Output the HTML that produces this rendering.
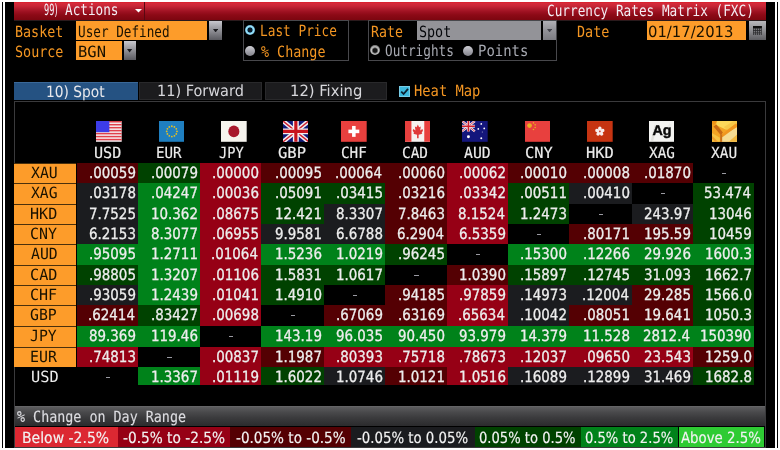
<!DOCTYPE html>
<html><head><meta charset="utf-8"><title>Currency Rates Matrix (FXC)</title>
<style>
*{margin:0;padding:0;box-sizing:border-box}
html,body{width:780px;height:450px;overflow:hidden;background:#fff}
body{position:relative;font-family:'DejaVu Sans Mono','Liberation Mono',monospace;font-size:15.5px;color:#ededed;text-rendering:geometricPrecision}
.a{position:absolute}
.t{position:absolute;white-space:pre;line-height:20px;height:20px;transform-origin:0 0}
.n{font-family:'DejaVu Sans Condensed','Liberation Sans',sans-serif;font-size:15.5px}
.s{-webkit-text-stroke:0.3px currentColor}
.s2{-webkit-text-stroke:0.15px currentColor}
</style></head>
<body>
<div class="a" style="left:2px;top:2px;width:1px;height:446px;background:#000"></div>
<div class="a" style="left:777px;top:2px;width:1px;height:446px;background:#000"></div>
<div class="a" style="left:5px;top:2px;width:770px;height:446px;background:#000"></div>
<div class="a" style="left:14px;top:2px;width:752px;height:17.5px;background:linear-gradient(#dc1e2a 0px,#d42a3a 1.5px,#c82636 4px,#b01c2c 7px,#9c1020 10px,#8c0a16 13px,#7e0610 17.5px)"></div>
<div class="a" style="left:14px;top:19.5px;width:752px;height:1px;background:#2a1a1c"></div>
<div class="a" style="left:144.2px;top:2px;width:1px;height:17.5px;background:#5a0812"></div>
<div id="t99" class="t n" style="left:44.41px;top:0.40px;color:#f4eef4;transform:scaleX(0.5864);">99)</div>
<div id="tact" class="t " style="left:64.89px;top:0.40px;color:#f4eef4;transform:scaleX(0.8171);">Actions</div>
<svg class="a" style="left:135px;top:8.6px" width="7" height="4"><path d="M0 0H7L3.5 3.6Z" fill="#fff"/></svg>
<div id="tcur" class="t " style="left:547.42px;top:1.30px;color:#f4eef4;transform:scaleX(0.8209);">Currency Rates Matrix (FXC)</div>
<div id="tbas" class="t " style="left:15.15px;top:21.50px;color:#f49622;transform:scaleX(0.8632);">Basket</div>
<div id="tsrc" class="t " style="left:15.25px;top:41.60px;color:#f49622;transform:scaleX(0.8649);">Source</div>
<div class="a" style="left:76px;top:20.8px;width:131.3px;height:19.4px;background:#fd9c2a"></div>
<div id="tusr" class="t " style="left:77.71px;top:21.70px;color:#1a1200;transform:scaleX(0.8184);">User Defined</div>
<div class="a" style="left:76px;top:41.1px;width:45.7px;height:19.3px;background:#fd9c2a"></div>
<div id="tbgn" class="t " style="left:77.79px;top:41.90px;color:#1a1200;transform:scaleX(0.9983);">BGN</div>
<div class="a" style="left:209px;top:20.8px;width:12.7px;height:19.4px;background:linear-gradient(#c8c8ce,#a4a4aa 30%,#8a8a90 55%,#5a5a60)"></div>
<svg class="a" style="left:212.75px;top:28.90px" width="5.2" height="3.4"><path d="M0 0H5.2L2.6 3.4Z" fill="#1a1a1e"/></svg>
<div class="a" style="left:123.6px;top:41.1px;width:12.8px;height:19.3px;background:linear-gradient(#c8c8ce,#a4a4aa 30%,#8a8a90 55%,#5a5a60)"></div>
<svg class="a" style="left:127.40px;top:49.15px" width="5.2" height="3.4"><path d="M0 0H5.2L2.6 3.4Z" fill="#1a1a1e"/></svg>
<div class="a" style="left:243px;top:19.5px;width:106px;height:41.2px;border:1px solid #48484c"></div>
<div class="a" style="left:245px;top:25px;width:10px;height:10px;border-radius:50%;background:radial-gradient(circle,#0c1a28 0 2.2px,#60c0e8 2.8px,#a8e4f8 3.8px,#5ca8cc 5px)"></div>
<div class="a" style="left:245px;top:45.5px;width:10px;height:10px;border-radius:50%;background:linear-gradient(#d0d0d6,#a6a6ae 50%,#84848c)"></div>
<div id="tlp" class="t " style="left:259.51px;top:20.80px;color:#f49622;transform:scaleX(0.8239);">Last Price</div>
<div id="tpc" class="t " style="left:260.58px;top:41.50px;color:#f49622;transform:scaleX(0.8633);">% Change</div>
<div class="a" style="left:367.5px;top:19.5px;width:189px;height:41.2px;border:1px solid #48484c"></div>
<div id="trate" class="t " style="left:371.09px;top:21.50px;color:#f49622;transform:scaleX(0.8558);">Rate</div>
<div class="a" style="left:417px;top:21px;width:124px;height:18.8px;background:#939398"></div>
<div id="tspot" class="t " style="left:419.06px;top:21.50px;color:#04060a;transform:scaleX(0.8633);">Spot</div>
<div class="a" style="left:543px;top:21px;width:12.8px;height:18.8px;background:linear-gradient(#b0b0b6,#94949a 45%,#7c7c82)"></div>
<svg class="a" style="left:546.8px;top:28.8px" width="5.2" height="3.4"><path d="M0 0H5.2L2.6 3.4Z" fill="#44444c"/></svg>
<div class="a" style="left:369.6px;top:45.2px;width:10px;height:10px;border-radius:50%;background:radial-gradient(circle at 50% 55%,#141414 0 1.8px,#606060 2.6px,#c8c8c8 3.6px,#808080 5px)"></div>
<div class="a" style="left:463px;top:45.6px;width:10px;height:10px;border-radius:50%;background:linear-gradient(#d0d0d6,#a6a6ae 50%,#84848c)"></div>
<div id="tout" class="t " style="left:384.58px;top:41.40px;color:#a8aab2;transform:scaleX(0.8204);">Outrights</div>
<div id="tpts" class="t " style="left:477.52px;top:41.40px;color:#a8aab2;transform:scaleX(0.8979);">Points</div>
<div id="tdate" class="t " style="left:577.11px;top:21.50px;color:#f49622;transform:scaleX(0.8690);">Date</div>
<div class="a" style="left:646.5px;top:20.8px;width:99.5px;height:19.4px;background:#fd9c2a"></div>
<div id="tdt" class="t n" style="left:647.74px;top:21.70px;color:#1a1200;transform:scaleX(1.0631);">01/17/2013</div>
<div class="a" style="left:748.6px;top:20.8px;width:17px;height:19.6px;background:linear-gradient(#b8b8bc,#929296 45%,#5e5e62)"></div>
<svg class="a" style="left:752.9px;top:25.8px" width="8.8" height="9.6"><rect x="0" y="0" width="8.8" height="9.6" fill="#2c2c2e"/><rect x="0" y="0" width="8.8" height="1.9" fill="#0c0c0c"/><rect x="0.70" y="2.60" width="1.3" height="1.5" fill="#7a7a7e"/><rect x="0.70" y="4.95" width="1.3" height="1.5" fill="#7a7a7e"/><rect x="0.70" y="7.30" width="1.3" height="1.5" fill="#7a7a7e"/><rect x="2.75" y="2.60" width="1.3" height="1.5" fill="#7a7a7e"/><rect x="2.75" y="4.95" width="1.3" height="1.5" fill="#7a7a7e"/><rect x="2.75" y="7.30" width="1.3" height="1.5" fill="#7a7a7e"/><rect x="4.80" y="2.60" width="1.3" height="1.5" fill="#7a7a7e"/><rect x="4.80" y="4.95" width="1.3" height="1.5" fill="#7a7a7e"/><rect x="4.80" y="7.30" width="1.3" height="1.5" fill="#7a7a7e"/><rect x="6.85" y="2.60" width="1.3" height="1.5" fill="#7a7a7e"/><rect x="6.85" y="4.95" width="1.3" height="1.5" fill="#7a7a7e"/><rect x="6.85" y="7.30" width="1.3" height="1.5" fill="#7a7a7e"/></svg>
<div class="a" style="left:14.4px;top:82px;width:123.5px;height:18px;background:#255282;border-top:1px solid #3a6898"></div>
<div id="ttab1" class="t n" style="left:46.16px;top:81.60px;color:#e8e8ec;transform:scaleX(0.9870);">10) Spot</div>
<div class="a" style="left:139.4px;top:82px;width:122.6px;height:18px;background:#1c1c1e;border:1px solid #29292b"></div>
<div id="ttab2" class="t n" style="left:156.67px;top:81.40px;color:#d8d8dc;transform:scaleX(1.0390);">11) Forward</div>
<div class="a" style="left:264.5px;top:82px;width:122.5px;height:18px;background:#1c1c1e;border:1px solid #29292b"></div>
<div id="ttab3" class="t n" style="left:289.84px;top:81.40px;color:#d8d8dc;transform:scaleX(1.0612);">12) Fixing</div>
<div class="a" style="left:399.2px;top:85.8px;width:11px;height:11px;background:#3cb8dc;border:1px solid #78cce6"></div>
<svg class="a" style="left:399.2px;top:85.8px" width="11" height="11"><path d="M2.2 5.6L4.6 8L9 2.8" stroke="#0c2030" stroke-width="1.8" fill="none"/></svg>
<div id="theat" class="t " style="left:413.69px;top:81.40px;color:#f49622;transform:scaleX(0.8896);">Heat Map</div>
<div class="a" style="left:14px;top:101px;width:752px;height:347px;border:1px solid #3a3a3c"></div>
<svg class="a" style="left:96.3px;top:121.4px" width="25.7" height="20.8" viewBox="0 0 26 21" preserveAspectRatio="none"><rect width="26" height="21" fill="#f4eef0"/><rect y="0" width="26" height="1.5" fill="#e0404a"/><rect y="3" width="26" height="1.5" fill="#e0404a"/><rect y="6" width="26" height="1.5" fill="#e0404a"/><rect y="9" width="26" height="1.5" fill="#e0404a"/><rect y="12" width="26" height="1.5" fill="#e0404a"/><rect y="15" width="26" height="1.5" fill="#e0404a"/><rect y="18" width="26" height="1.5" fill="#e0404a"/><rect width="13.5" height="11.3" fill="#3c3ce8"/></svg>
<svg class="a" style="left:158.7px;top:121.4px" width="25.7" height="20.8" viewBox="0 0 26 21" preserveAspectRatio="none"><rect width="26" height="21" fill="#1f7fc0"/><circle cx="18.20" cy="10.50" r="0.9" fill="#e8c020"/><circle cx="17.50" cy="13.10" r="0.9" fill="#e8c020"/><circle cx="15.60" cy="15.00" r="0.9" fill="#e8c020"/><circle cx="13.00" cy="15.70" r="0.9" fill="#e8c020"/><circle cx="10.40" cy="15.00" r="0.9" fill="#e8c020"/><circle cx="8.50" cy="13.10" r="0.9" fill="#e8c020"/><circle cx="7.80" cy="10.50" r="0.9" fill="#e8c020"/><circle cx="8.50" cy="7.90" r="0.9" fill="#e8c020"/><circle cx="10.40" cy="6.00" r="0.9" fill="#e8c020"/><circle cx="13.00" cy="5.30" r="0.9" fill="#e8c020"/><circle cx="15.60" cy="6.00" r="0.9" fill="#e8c020"/><circle cx="17.50" cy="7.90" r="0.9" fill="#e8c020"/></svg>
<svg class="a" style="left:221.2px;top:121.4px" width="25.7" height="20.8" viewBox="0 0 26 21" preserveAspectRatio="none"><rect width="26" height="21" fill="#f6f4ee"/><ellipse cx="13" cy="10.5" rx="5.6" ry="6" fill="#a8182c"/></svg>
<svg class="a" style="left:282.7px;top:121.4px" width="25.7" height="20.8" viewBox="0 0 26 21" preserveAspectRatio="none"><rect width="26" height="21" fill="#101a7a"/><path d="M0 0L26 21M26 0L0 21" stroke="#f2eef0" stroke-width="4.5"/><path d="M0 0L26 21M26 0L0 21" stroke="#d0202e" stroke-width="1.4"/><path d="M13 0V21M0 10.5H26" stroke="#f2eef0" stroke-width="6"/><path d="M13 0V21M0 10.5H26" stroke="#c8141e" stroke-width="3.2"/></svg>
<svg class="a" style="left:341px;top:121.4px" width="25.7" height="20.8" viewBox="0 0 26 21" preserveAspectRatio="none"><rect width="26" height="21" fill="#e8403e"/><rect x="11.2" y="5" width="3.6" height="11" fill="#fff"/><rect x="7.5" y="8.7" width="11" height="3.6" fill="#fff"/></svg>
<svg class="a" style="left:404.6px;top:121.4px" width="25.7" height="20.8" viewBox="0 0 26 21" preserveAspectRatio="none"><rect width="26" height="21" fill="#f6f2f0"/><rect width="6.5" height="21" fill="#e8403e"/><rect x="19.5" width="6.5" height="21" fill="#e8403e"/><path d="M13 3.5L14.3 6.2L16 5.6L15.4 9.5L17.6 8.2L18.2 9.6L16.8 12.2L17.6 13L13.8 14V17.5H12.2V14L8.4 13L9.2 12.2L7.8 9.6L8.4 8.2L10.6 9.5L10 5.6L11.7 6.2Z" fill="#e03a3a"/></svg>
<svg class="a" style="left:461.9px;top:121.4px" width="25.7" height="20.8" viewBox="0 0 26 21" preserveAspectRatio="none"><rect width="26" height="21" fill="#14167c"/><path d="M0 0L13 10.5M13 0L0 10.5" stroke="#f0eaf0" stroke-width="2.4"/><path d="M0 0L13 10.5M13 0L0 10.5" stroke="#d02030" stroke-width="0.8"/><path d="M6.5 0V10.5M0 5.25H13" stroke="#f0eaf0" stroke-width="3"/><path d="M6.5 0V10.5M0 5.25H13" stroke="#d0202e" stroke-width="1.6"/><circle cx="6.5" cy="16" r="1.5" fill="#fff"/><circle cx="19.5" cy="3" r="0.9" fill="#fff"/><circle cx="16.5" cy="8" r="0.9" fill="#fff"/><circle cx="22.5" cy="7.5" r="0.9" fill="#fff"/><circle cx="19.5" cy="17.5" r="1" fill="#fff"/><circle cx="20.5" cy="11" r="0.5" fill="#fff"/></svg>
<svg class="a" style="left:524.6px;top:121.4px" width="25.7" height="20.8" viewBox="0 0 26 21" preserveAspectRatio="none"><rect width="26" height="21" fill="#e8403e"/><circle cx="4.6" cy="4.6" r="2.4" fill="#e8b020"/><circle cx="8.6" cy="1.9" r="0.8" fill="#e8b020"/><circle cx="10.3" cy="3.9" r="0.8" fill="#e8b020"/><circle cx="10.3" cy="6.6" r="0.8" fill="#e8b020"/><circle cx="8.6" cy="8.6" r="0.8" fill="#e8b020"/></svg>
<svg class="a" style="left:587px;top:121.4px" width="25.7" height="20.8" viewBox="0 0 26 21" preserveAspectRatio="none"><rect width="26" height="21" fill="#c63412"/><ellipse cx="13.00" cy="7.90" rx="1.8" ry="2.3" transform="rotate(0 13.00 7.90)" fill="#f8eeee"/><ellipse cx="15.47" cy="9.70" rx="1.8" ry="2.3" transform="rotate(72 15.47 9.70)" fill="#f8eeee"/><ellipse cx="14.53" cy="12.60" rx="1.8" ry="2.3" transform="rotate(144 14.53 12.60)" fill="#f8eeee"/><ellipse cx="11.47" cy="12.60" rx="1.8" ry="2.3" transform="rotate(216 11.47 12.60)" fill="#f8eeee"/><ellipse cx="10.53" cy="9.70" rx="1.8" ry="2.3" transform="rotate(288 10.53 9.70)" fill="#f8eeee"/><circle cx="13" cy="10.5" r="0.9" fill="#d04a3a"/></svg>
<svg class="a" style="left:648.7px;top:121.4px" width="25.7" height="20.8" viewBox="0 0 26 21" preserveAspectRatio="none"><rect width="26" height="21" fill="#f4f4f2"/><path d="M3 20L7 4" stroke="#e2e2de" stroke-width="2.5"/><path d="M14 16L22 3" stroke="#ececea" stroke-width="3"/><text x="13.2" y="14.3" text-anchor="middle" style="font-family:'Liberation Sans',sans-serif;font-weight:700;font-size:14.5px" stroke="#000" stroke-width="0.4" fill="#0a0a0a">Ag</text></svg>
<svg class="a" style="left:711.8px;top:121.4px" width="25.7" height="20.8" viewBox="0 0 26 21" preserveAspectRatio="none"><rect width="26" height="21" fill="#f4a424"/><path d="M0 0H6L2 4L0 3Z" fill="#ee9418"/><path d="M5 0H25L14 8.5L4 4Z" fill="#fcd85a"/><path d="M12 6L22 0H26V2L15 9Z" fill="#f6c848"/><path d="M10 15L26 6V21H10Z" fill="#f6dc92"/><path d="M17 21L26 13V21Z" fill="#f2b840"/><path d="M0 12L8 17V21H0Z" fill="#f8c444"/><path d="M0 15L6 21H3L0 18Z" fill="#ee9c2c"/><path d="M1.5 5.5L4.5 3.5L11 11.5L9 14.5Z" fill="#c86a14"/><path d="M9 14.5L24 2.5L26 5L10.5 16.5Z" fill="#f0961e"/><path d="M8.3 13.5H10.3V21H8.3Z" fill="#c8701a"/></svg>
<div id="tc0" class="t s2" style="left:93.95px;top:143.30px;color:#ececec;transform:scaleX(0.9765);">USD</div>
<div id="tc1" class="t s2" style="left:156.47px;top:143.30px;color:#ececec;transform:scaleX(0.9152);">EUR</div>
<div id="tc2" class="t s2" style="left:218.65px;top:143.30px;color:#ececec;transform:scaleX(0.8837);">JPY</div>
<div id="tc3" class="t s2" style="left:278.20px;top:143.30px;color:#ececec;transform:scaleX(1.0041);">GBP</div>
<div id="tc4" class="t s2" style="left:340.72px;top:143.30px;color:#ececec;transform:scaleX(0.9231);">CHF</div>
<div id="tc5" class="t s2" style="left:402.32px;top:143.30px;color:#ececec;transform:scaleX(0.9302);">CAD</div>
<div id="tc6" class="t s2" style="left:463.92px;top:143.30px;color:#ececec;transform:scaleX(0.9520);">AUD</div>
<div id="tc7" class="t s2" style="left:525.45px;top:143.30px;color:#ececec;transform:scaleX(0.9924);">CNY</div>
<div id="tc8" class="t s2" style="left:586.48px;top:143.30px;color:#ececec;transform:scaleX(0.9975);">HKD</div>
<div id="tc9" class="t s2" style="left:649.32px;top:143.30px;color:#ececec;transform:scaleX(0.9253);">XAG</div>
<div id="tc10" class="t s2" style="left:710.91px;top:143.30px;color:#ececec;transform:scaleX(0.9341);">XAU</div>
<div class="a" style="left:14px;top:163px;width:62px;height:20px;background:#fd9c2a;border-top:1px solid #4a300c"></div>
<div id="tr0" class="t " style="left:30.62px;top:163.40px;color:#1a1200;transform:scaleX(0.9557);">XAU</div>
<div class="a" style="left:77px;top:163px;width:61px;height:20px;background:#540003"></div>
<div id="d0_0" class="t n s" style="left:88.90px;top:163.10px;color:#ededed;transform:scaleX(0.9620);">.00059</div>
<div class="a" style="left:138px;top:163px;width:62px;height:20px;background:#004200"></div>
<div id="d0_1" class="t n s" style="left:150.90px;top:163.10px;color:#ededed;transform:scaleX(0.9620);">.00079</div>
<div class="a" style="left:200px;top:163px;width:61px;height:20px;background:#960015"></div>
<div id="d0_2" class="t n s" style="left:211.87px;top:163.10px;color:#ededed;transform:scaleX(0.9620);">.00000</div>
<div class="a" style="left:261px;top:163px;width:63px;height:20px;background:#540003"></div>
<div id="d0_3" class="t n s" style="left:275.03px;top:163.10px;color:#ededed;transform:scaleX(0.9620);">.00095</div>
<div class="a" style="left:324px;top:163px;width:61px;height:20px;background:#540003"></div>
<div id="d0_4" class="t n s" style="left:335.45px;top:163.10px;color:#ededed;transform:scaleX(0.9620);">.00064</div>
<div class="a" style="left:385px;top:163px;width:62px;height:20px;background:#540003"></div>
<div id="d0_5" class="t n s" style="left:397.87px;top:163.10px;color:#ededed;transform:scaleX(0.9620);">.00060</div>
<div class="a" style="left:447px;top:163px;width:61px;height:20px;background:#960015"></div>
<div id="d0_6" class="t n s" style="left:459.07px;top:163.10px;color:#ededed;transform:scaleX(0.9620);">.00062</div>
<div class="a" style="left:508px;top:163px;width:61px;height:20px;background:#540003"></div>
<div id="d0_7" class="t n s" style="left:519.87px;top:163.10px;color:#ededed;transform:scaleX(0.9620);">.00010</div>
<div class="a" style="left:569px;top:163px;width:63px;height:20px;background:#540003"></div>
<div id="d0_8" class="t n s" style="left:582.90px;top:163.10px;color:#ededed;transform:scaleX(0.9620);">.00008</div>
<div class="a" style="left:632px;top:163px;width:61px;height:20px;background:#540003"></div>
<div id="d0_9" class="t n s" style="left:643.87px;top:163.10px;color:#ededed;transform:scaleX(0.9620);">.01870</div>
<div class="a" style="left:721.90px;top:172.50px;width:4.6px;height:1.1px;background:#9a9aa2"></div>
<div class="a" style="left:14px;top:183px;width:62px;height:21px;background:#fd9c2a;border-top:1px solid #4a300c"></div>
<div id="tr1" class="t " style="left:30.62px;top:183.40px;color:#1a1200;transform:scaleX(0.9493);">XAG</div>
<div class="a" style="left:77px;top:183px;width:61px;height:21px;background:#1b1c1f"></div>
<div id="d1_0" class="t n s" style="left:88.90px;top:183.10px;color:#ededed;transform:scaleX(0.9620);">.03178</div>
<div class="a" style="left:138px;top:183px;width:62px;height:21px;background:#00821a"></div>
<div id="d1_1" class="t n s" style="left:151.05px;top:183.10px;color:#ededed;transform:scaleX(0.9620);">.04247</div>
<div class="a" style="left:200px;top:183px;width:61px;height:21px;background:#960015"></div>
<div id="d1_2" class="t n s" style="left:211.85px;top:183.10px;color:#ededed;transform:scaleX(0.9620);">.00036</div>
<div class="a" style="left:261px;top:183px;width:63px;height:21px;background:#004200"></div>
<div id="d1_3" class="t n s" style="left:275.01px;top:183.10px;color:#ededed;transform:scaleX(0.9620);">.05091</div>
<div class="a" style="left:324px;top:183px;width:61px;height:21px;background:#004200"></div>
<div id="d1_4" class="t n s" style="left:336.03px;top:183.10px;color:#ededed;transform:scaleX(0.9620);">.03415</div>
<div class="a" style="left:385px;top:183px;width:62px;height:21px;background:#540003"></div>
<div id="d1_5" class="t n s" style="left:397.85px;top:183.10px;color:#ededed;transform:scaleX(0.9620);">.03216</div>
<div class="a" style="left:447px;top:183px;width:61px;height:21px;background:#960015"></div>
<div id="d1_6" class="t n s" style="left:459.07px;top:183.10px;color:#ededed;transform:scaleX(0.9620);">.03342</div>
<div class="a" style="left:508px;top:183px;width:61px;height:21px;background:#004200"></div>
<div id="d1_7" class="t n s" style="left:520.01px;top:183.10px;color:#ededed;transform:scaleX(0.9620);">.00511</div>
<div class="a" style="left:569px;top:183px;width:63px;height:21px;background:#1b1c1f"></div>
<div id="d1_8" class="t n s" style="left:582.87px;top:183.10px;color:#ededed;transform:scaleX(0.9620);">.00410</div>
<div class="a" style="left:660.90px;top:192.50px;width:4.6px;height:1.1px;background:#9a9aa2"></div>
<div class="a" style="left:693px;top:183px;width:61px;height:21px;background:#004200"></div>
<div id="d1_10" class="t n s" style="left:704.45px;top:183.10px;color:#ededed;transform:scaleX(0.9620);">53.474</div>
<div class="a" style="left:14px;top:204px;width:62px;height:20px;background:#fd9c2a;border-top:1px solid #4a300c"></div>
<div id="tr2" class="t " style="left:30.00px;top:204.40px;color:#1a1200;transform:scaleX(0.9778);">HKD</div>
<div class="a" style="left:77px;top:204px;width:61px;height:20px;background:#1b1c1f"></div>
<div id="d2_0" class="t n s" style="left:89.03px;top:204.10px;color:#ededed;transform:scaleX(0.9620);">7.7525</div>
<div class="a" style="left:138px;top:204px;width:62px;height:20px;background:#00821a"></div>
<div id="d2_1" class="t n s" style="left:151.07px;top:204.10px;color:#ededed;transform:scaleX(0.9620);">10.362</div>
<div class="a" style="left:200px;top:204px;width:61px;height:20px;background:#960015"></div>
<div id="d2_2" class="t n s" style="left:212.03px;top:204.10px;color:#ededed;transform:scaleX(0.9620);">.08675</div>
<div class="a" style="left:261px;top:204px;width:63px;height:20px;background:#004200"></div>
<div id="d2_3" class="t n s" style="left:275.01px;top:204.10px;color:#ededed;transform:scaleX(0.9620);">12.421</div>
<div class="a" style="left:324px;top:204px;width:61px;height:20px;background:#1b1c1f"></div>
<div id="d2_4" class="t n s" style="left:336.05px;top:204.10px;color:#ededed;transform:scaleX(0.9620);">8.3307</div>
<div class="a" style="left:385px;top:204px;width:62px;height:20px;background:#540003"></div>
<div id="d2_5" class="t n s" style="left:397.98px;top:204.10px;color:#ededed;transform:scaleX(0.9620);">7.8463</div>
<div class="a" style="left:447px;top:204px;width:61px;height:20px;background:#960015"></div>
<div id="d2_6" class="t n s" style="left:458.45px;top:204.10px;color:#ededed;transform:scaleX(0.9620);">8.1524</div>
<div class="a" style="left:508px;top:204px;width:61px;height:20px;background:#004200"></div>
<div id="d2_7" class="t n s" style="left:519.98px;top:204.10px;color:#ededed;transform:scaleX(0.9620);">1.2473</div>
<div class="a" style="left:598.90px;top:213.50px;width:4.6px;height:1.1px;background:#9a9aa2"></div>
<div class="a" style="left:632px;top:204px;width:61px;height:20px;background:#1b1c1f"></div>
<div id="d2_9" class="t n s" style="left:644.05px;top:204.10px;color:#ededed;transform:scaleX(0.9620);">243.97</div>
<div class="a" style="left:693px;top:204px;width:61px;height:20px;background:#004200"></div>
<div id="d2_10" class="t n s" style="left:708.97px;top:204.10px;color:#ededed;transform:scaleX(0.9620);">13046</div>
<div class="a" style="left:14px;top:224px;width:62px;height:20px;background:#fd9c2a;border-top:1px solid #4a300c"></div>
<div id="tr3" class="t " style="left:29.97px;top:224.40px;color:#1a1200;transform:scaleX(0.9638);">CNY</div>
<div class="a" style="left:77px;top:224px;width:61px;height:20px;background:#1b1c1f"></div>
<div id="d3_0" class="t n s" style="left:88.98px;top:224.10px;color:#ededed;transform:scaleX(0.9620);">6.2153</div>
<div class="a" style="left:138px;top:224px;width:62px;height:20px;background:#00821a"></div>
<div id="d3_1" class="t n s" style="left:151.05px;top:224.10px;color:#ededed;transform:scaleX(0.9620);">8.3077</div>
<div class="a" style="left:200px;top:224px;width:61px;height:20px;background:#960015"></div>
<div id="d3_2" class="t n s" style="left:212.03px;top:224.10px;color:#ededed;transform:scaleX(0.9620);">.06955</div>
<div class="a" style="left:261px;top:224px;width:63px;height:20px;background:#1b1c1f"></div>
<div id="d3_3" class="t n s" style="left:275.01px;top:224.10px;color:#ededed;transform:scaleX(0.9620);">9.9581</div>
<div class="a" style="left:324px;top:224px;width:61px;height:20px;background:#1b1c1f"></div>
<div id="d3_4" class="t n s" style="left:335.90px;top:224.10px;color:#ededed;transform:scaleX(0.9620);">6.6788</div>
<div class="a" style="left:385px;top:224px;width:62px;height:20px;background:#540003"></div>
<div id="d3_5" class="t n s" style="left:397.45px;top:224.10px;color:#ededed;transform:scaleX(0.9620);">6.2904</div>
<div class="a" style="left:447px;top:224px;width:61px;height:20px;background:#960015"></div>
<div id="d3_6" class="t n s" style="left:458.90px;top:224.10px;color:#ededed;transform:scaleX(0.9620);">6.5359</div>
<div class="a" style="left:536.90px;top:233.50px;width:4.6px;height:1.1px;background:#9a9aa2"></div>
<div class="a" style="left:569px;top:224px;width:63px;height:20px;background:#540003"></div>
<div id="d3_8" class="t n s" style="left:583.01px;top:224.10px;color:#ededed;transform:scaleX(0.9620);">.80171</div>
<div class="a" style="left:632px;top:224px;width:61px;height:20px;background:#540003"></div>
<div id="d3_9" class="t n s" style="left:643.90px;top:224.10px;color:#ededed;transform:scaleX(0.9620);">195.59</div>
<div class="a" style="left:693px;top:224px;width:61px;height:20px;background:#004200"></div>
<div id="d3_10" class="t n s" style="left:709.03px;top:224.10px;color:#ededed;transform:scaleX(0.9620);">10459</div>
<div class="a" style="left:14px;top:244px;width:62px;height:21px;background:#fd9c2a;border-top:1px solid #4a300c"></div>
<div id="tr4" class="t " style="left:30.64px;top:244.40px;color:#1a1200;transform:scaleX(0.9542);">AUD</div>
<div class="a" style="left:77px;top:244px;width:61px;height:21px;background:#00821a"></div>
<div id="d4_0" class="t n s" style="left:89.03px;top:244.10px;color:#ededed;transform:scaleX(0.9620);">.95095</div>
<div class="a" style="left:138px;top:244px;width:62px;height:21px;background:#00821a"></div>
<div id="d4_1" class="t n s" style="left:151.01px;top:244.10px;color:#ededed;transform:scaleX(0.9620);">1.2711</div>
<div class="a" style="left:200px;top:244px;width:61px;height:21px;background:#960015"></div>
<div id="d4_2" class="t n s" style="left:211.45px;top:244.10px;color:#ededed;transform:scaleX(0.9620);">.01064</div>
<div class="a" style="left:261px;top:244px;width:63px;height:21px;background:#00821a"></div>
<div id="d4_3" class="t n s" style="left:274.85px;top:244.10px;color:#ededed;transform:scaleX(0.9620);">1.5236</div>
<div class="a" style="left:324px;top:244px;width:61px;height:21px;background:#00821a"></div>
<div id="d4_4" class="t n s" style="left:335.90px;top:244.10px;color:#ededed;transform:scaleX(0.9620);">1.0219</div>
<div class="a" style="left:385px;top:244px;width:62px;height:21px;background:#004200"></div>
<div id="d4_5" class="t n s" style="left:398.03px;top:244.10px;color:#ededed;transform:scaleX(0.9620);">.96245</div>
<div class="a" style="left:475.90px;top:253.50px;width:4.6px;height:1.1px;background:#9a9aa2"></div>
<div class="a" style="left:508px;top:244px;width:61px;height:21px;background:#00821a"></div>
<div id="d4_7" class="t n s" style="left:519.87px;top:244.10px;color:#ededed;transform:scaleX(0.9620);">.15300</div>
<div class="a" style="left:569px;top:244px;width:63px;height:21px;background:#00821a"></div>
<div id="d4_8" class="t n s" style="left:582.85px;top:244.10px;color:#ededed;transform:scaleX(0.9620);">.12266</div>
<div class="a" style="left:632px;top:244px;width:61px;height:21px;background:#00821a"></div>
<div id="d4_9" class="t n s" style="left:643.85px;top:244.10px;color:#ededed;transform:scaleX(0.9620);">29.926</div>
<div class="a" style="left:693px;top:244px;width:61px;height:21px;background:#00821a"></div>
<div id="d4_10" class="t n s" style="left:704.98px;top:244.10px;color:#ededed;transform:scaleX(0.9620);">1600.3</div>
<div class="a" style="left:14px;top:265px;width:62px;height:20px;background:#fd9c2a;border-top:1px solid #4a300c"></div>
<div id="tr5" class="t " style="left:29.95px;top:265.40px;color:#1a1200;transform:scaleX(0.9796);">CAD</div>
<div class="a" style="left:77px;top:265px;width:61px;height:20px;background:#004200"></div>
<div id="d5_0" class="t n s" style="left:89.03px;top:265.10px;color:#ededed;transform:scaleX(0.9620);">.98805</div>
<div class="a" style="left:138px;top:265px;width:62px;height:20px;background:#00821a"></div>
<div id="d5_1" class="t n s" style="left:151.05px;top:265.10px;color:#ededed;transform:scaleX(0.9620);">1.3207</div>
<div class="a" style="left:200px;top:265px;width:61px;height:20px;background:#960015"></div>
<div id="d5_2" class="t n s" style="left:211.85px;top:265.10px;color:#ededed;transform:scaleX(0.9620);">.01106</div>
<div class="a" style="left:261px;top:265px;width:63px;height:20px;background:#004200"></div>
<div id="d5_3" class="t n s" style="left:275.01px;top:265.10px;color:#ededed;transform:scaleX(0.9620);">1.5831</div>
<div class="a" style="left:324px;top:265px;width:61px;height:20px;background:#004200"></div>
<div id="d5_4" class="t n s" style="left:336.05px;top:265.10px;color:#ededed;transform:scaleX(0.9620);">1.0617</div>
<div class="a" style="left:414.40px;top:274.50px;width:4.6px;height:1.1px;background:#9a9aa2"></div>
<div class="a" style="left:447px;top:265px;width:61px;height:20px;background:#540003"></div>
<div id="d5_6" class="t n s" style="left:458.87px;top:265.10px;color:#ededed;transform:scaleX(0.9620);">1.0390</div>
<div class="a" style="left:508px;top:265px;width:61px;height:20px;background:#004200"></div>
<div id="d5_7" class="t n s" style="left:520.05px;top:265.10px;color:#ededed;transform:scaleX(0.9620);">.15897</div>
<div class="a" style="left:569px;top:265px;width:63px;height:20px;background:#004200"></div>
<div id="d5_8" class="t n s" style="left:583.03px;top:265.10px;color:#ededed;transform:scaleX(0.9620);">.12745</div>
<div class="a" style="left:632px;top:265px;width:61px;height:20px;background:#004200"></div>
<div id="d5_9" class="t n s" style="left:643.98px;top:265.10px;color:#ededed;transform:scaleX(0.9620);">31.093</div>
<div class="a" style="left:693px;top:265px;width:61px;height:20px;background:#004200"></div>
<div id="d5_10" class="t n s" style="left:705.05px;top:265.10px;color:#ededed;transform:scaleX(0.9620);">1662.7</div>
<div class="a" style="left:14px;top:285px;width:62px;height:20px;background:#fd9c2a;border-top:1px solid #4a300c"></div>
<div id="tr6" class="t " style="left:29.96px;top:285.40px;color:#1a1200;transform:scaleX(0.9711);">CHF</div>
<div class="a" style="left:77px;top:285px;width:61px;height:20px;background:#1b1c1f"></div>
<div id="d6_0" class="t n s" style="left:88.90px;top:285.10px;color:#ededed;transform:scaleX(0.9620);">.93059</div>
<div class="a" style="left:138px;top:285px;width:62px;height:20px;background:#00821a"></div>
<div id="d6_1" class="t n s" style="left:150.90px;top:285.10px;color:#ededed;transform:scaleX(0.9620);">1.2439</div>
<div class="a" style="left:200px;top:285px;width:61px;height:20px;background:#960015"></div>
<div id="d6_2" class="t n s" style="left:212.01px;top:285.10px;color:#ededed;transform:scaleX(0.9620);">.01041</div>
<div class="a" style="left:261px;top:285px;width:63px;height:20px;background:#004200"></div>
<div id="d6_3" class="t n s" style="left:274.87px;top:285.10px;color:#ededed;transform:scaleX(0.9620);">1.4910</div>
<div class="a" style="left:352.90px;top:294.50px;width:4.6px;height:1.1px;background:#9a9aa2"></div>
<div class="a" style="left:385px;top:285px;width:62px;height:20px;background:#540003"></div>
<div id="d6_5" class="t n s" style="left:398.03px;top:285.10px;color:#ededed;transform:scaleX(0.9620);">.94185</div>
<div class="a" style="left:447px;top:285px;width:61px;height:20px;background:#960015"></div>
<div id="d6_6" class="t n s" style="left:458.90px;top:285.10px;color:#ededed;transform:scaleX(0.9620);">.97859</div>
<div class="a" style="left:508px;top:285px;width:61px;height:20px;background:#1b1c1f"></div>
<div id="d6_7" class="t n s" style="left:519.98px;top:285.10px;color:#ededed;transform:scaleX(0.9620);">.14973</div>
<div class="a" style="left:569px;top:285px;width:63px;height:20px;background:#1b1c1f"></div>
<div id="d6_8" class="t n s" style="left:582.45px;top:285.10px;color:#ededed;transform:scaleX(0.9620);">.12004</div>
<div class="a" style="left:632px;top:285px;width:61px;height:20px;background:#540003"></div>
<div id="d6_9" class="t n s" style="left:644.03px;top:285.10px;color:#ededed;transform:scaleX(0.9620);">29.285</div>
<div class="a" style="left:693px;top:285px;width:61px;height:20px;background:#004200"></div>
<div id="d6_10" class="t n s" style="left:704.87px;top:285.10px;color:#ededed;transform:scaleX(0.9620);">1566.0</div>
<div class="a" style="left:14px;top:305px;width:62px;height:21px;background:#fd9c2a;border-top:1px solid #4a300c"></div>
<div id="tr7" class="t " style="left:30.29px;top:305.40px;color:#1a1200;transform:scaleX(0.9540);">GBP</div>
<div class="a" style="left:77px;top:305px;width:61px;height:21px;background:#540003"></div>
<div id="d7_0" class="t n s" style="left:88.45px;top:305.10px;color:#ededed;transform:scaleX(0.9620);">.62414</div>
<div class="a" style="left:138px;top:305px;width:62px;height:21px;background:#004200"></div>
<div id="d7_1" class="t n s" style="left:151.05px;top:305.10px;color:#ededed;transform:scaleX(0.9620);">.83427</div>
<div class="a" style="left:200px;top:305px;width:61px;height:21px;background:#960015"></div>
<div id="d7_2" class="t n s" style="left:211.90px;top:305.10px;color:#ededed;transform:scaleX(0.9620);">.00698</div>
<div class="a" style="left:290.90px;top:314.50px;width:4.6px;height:1.1px;background:#9a9aa2"></div>
<div class="a" style="left:324px;top:305px;width:61px;height:21px;background:#540003"></div>
<div id="d7_4" class="t n s" style="left:335.90px;top:305.10px;color:#ededed;transform:scaleX(0.9620);">.67069</div>
<div class="a" style="left:385px;top:305px;width:62px;height:21px;background:#540003"></div>
<div id="d7_5" class="t n s" style="left:397.90px;top:305.10px;color:#ededed;transform:scaleX(0.9620);">.63169</div>
<div class="a" style="left:447px;top:305px;width:61px;height:21px;background:#960015"></div>
<div id="d7_6" class="t n s" style="left:458.45px;top:305.10px;color:#ededed;transform:scaleX(0.9620);">.65634</div>
<div class="a" style="left:508px;top:305px;width:61px;height:21px;background:#1b1c1f"></div>
<div id="d7_7" class="t n s" style="left:520.07px;top:305.10px;color:#ededed;transform:scaleX(0.9620);">.10042</div>
<div class="a" style="left:569px;top:305px;width:63px;height:21px;background:#540003"></div>
<div id="d7_8" class="t n s" style="left:583.01px;top:305.10px;color:#ededed;transform:scaleX(0.9620);">.08051</div>
<div class="a" style="left:632px;top:305px;width:61px;height:21px;background:#540003"></div>
<div id="d7_9" class="t n s" style="left:644.01px;top:305.10px;color:#ededed;transform:scaleX(0.9620);">19.641</div>
<div class="a" style="left:693px;top:305px;width:61px;height:21px;background:#004200"></div>
<div id="d7_10" class="t n s" style="left:704.98px;top:305.10px;color:#ededed;transform:scaleX(0.9620);">1050.3</div>
<div class="a" style="left:14px;top:326px;width:62px;height:21px;background:#fd9c2a;border-top:1px solid #4a300c"></div>
<div id="tr8" class="t " style="left:30.26px;top:326.40px;color:#1a1200;transform:scaleX(0.9531);">JPY</div>
<div class="a" style="left:77px;top:326px;width:61px;height:21px;background:#00821a"></div>
<div id="d8_0" class="t n s" style="left:88.90px;top:326.10px;color:#ededed;transform:scaleX(0.9620);">89.369</div>
<div class="a" style="left:138px;top:326px;width:62px;height:21px;background:#00821a"></div>
<div id="d8_1" class="t n s" style="left:150.85px;top:326.10px;color:#ededed;transform:scaleX(0.9620);">119.46</div>
<div class="a" style="left:228.90px;top:335.50px;width:4.6px;height:1.1px;background:#9a9aa2"></div>
<div class="a" style="left:261px;top:326px;width:63px;height:21px;background:#00821a"></div>
<div id="d8_3" class="t n s" style="left:274.90px;top:326.10px;color:#ededed;transform:scaleX(0.9620);">143.19</div>
<div class="a" style="left:324px;top:326px;width:61px;height:21px;background:#00821a"></div>
<div id="d8_4" class="t n s" style="left:336.03px;top:326.10px;color:#ededed;transform:scaleX(0.9620);">96.035</div>
<div class="a" style="left:385px;top:326px;width:62px;height:21px;background:#00821a"></div>
<div id="d8_5" class="t n s" style="left:397.87px;top:326.10px;color:#ededed;transform:scaleX(0.9620);">90.450</div>
<div class="a" style="left:447px;top:326px;width:61px;height:21px;background:#00821a"></div>
<div id="d8_6" class="t n s" style="left:458.90px;top:326.10px;color:#ededed;transform:scaleX(0.9620);">93.979</div>
<div class="a" style="left:508px;top:326px;width:61px;height:21px;background:#00821a"></div>
<div id="d8_7" class="t n s" style="left:519.90px;top:326.10px;color:#ededed;transform:scaleX(0.9620);">14.379</div>
<div class="a" style="left:569px;top:326px;width:63px;height:21px;background:#00821a"></div>
<div id="d8_8" class="t n s" style="left:582.90px;top:326.10px;color:#ededed;transform:scaleX(0.9620);">11.528</div>
<div class="a" style="left:632px;top:326px;width:61px;height:21px;background:#00821a"></div>
<div id="d8_9" class="t n s" style="left:643.45px;top:326.10px;color:#ededed;transform:scaleX(0.9620);">2812.4</div>
<div class="a" style="left:693px;top:326px;width:61px;height:21px;background:#00821a"></div>
<div id="d8_10" class="t n s" style="left:700.49px;top:326.10px;color:#ededed;transform:scaleX(0.9620);">150390</div>
<div class="a" style="left:14px;top:347px;width:62px;height:20px;background:#fd9c2a;border-top:1px solid #4a300c"></div>
<div id="tr9" class="t " style="left:29.63px;top:347.40px;color:#1a1200;transform:scaleX(0.9607);">EUR</div>
<div class="a" style="left:77px;top:347px;width:61px;height:20px;background:#960015"></div>
<div id="d9_0" class="t n s" style="left:88.98px;top:347.10px;color:#ededed;transform:scaleX(0.9620);">.74813</div>
<div class="a" style="left:167.40px;top:356.50px;width:4.6px;height:1.1px;background:#9a9aa2"></div>
<div class="a" style="left:200px;top:347px;width:61px;height:20px;background:#960015"></div>
<div id="d9_2" class="t n s" style="left:212.05px;top:347.10px;color:#ededed;transform:scaleX(0.9620);">.00837</div>
<div class="a" style="left:261px;top:347px;width:63px;height:20px;background:#540003"></div>
<div id="d9_3" class="t n s" style="left:275.05px;top:347.10px;color:#ededed;transform:scaleX(0.9620);">1.1987</div>
<div class="a" style="left:324px;top:347px;width:61px;height:20px;background:#960015"></div>
<div id="d9_4" class="t n s" style="left:335.98px;top:347.10px;color:#ededed;transform:scaleX(0.9620);">.80393</div>
<div class="a" style="left:385px;top:347px;width:62px;height:20px;background:#960015"></div>
<div id="d9_5" class="t n s" style="left:397.90px;top:347.10px;color:#ededed;transform:scaleX(0.9620);">.75718</div>
<div class="a" style="left:447px;top:347px;width:61px;height:20px;background:#960015"></div>
<div id="d9_6" class="t n s" style="left:458.98px;top:347.10px;color:#ededed;transform:scaleX(0.9620);">.78673</div>
<div class="a" style="left:508px;top:347px;width:61px;height:20px;background:#960015"></div>
<div id="d9_7" class="t n s" style="left:520.05px;top:347.10px;color:#ededed;transform:scaleX(0.9620);">.12037</div>
<div class="a" style="left:569px;top:347px;width:63px;height:20px;background:#960015"></div>
<div id="d9_8" class="t n s" style="left:582.87px;top:347.10px;color:#ededed;transform:scaleX(0.9620);">.09650</div>
<div class="a" style="left:632px;top:347px;width:61px;height:20px;background:#960015"></div>
<div id="d9_9" class="t n s" style="left:643.98px;top:347.10px;color:#ededed;transform:scaleX(0.9620);">23.543</div>
<div class="a" style="left:693px;top:347px;width:61px;height:20px;background:#540003"></div>
<div id="d9_10" class="t n s" style="left:704.87px;top:347.10px;color:#ededed;transform:scaleX(0.9620);">1259.0</div>
<div id="tr10" class="t " style="left:31.32px;top:367.40px;color:#ececec;transform:scaleX(0.9880);">USD</div>
<div class="a" style="left:105.90px;top:376.50px;width:4.6px;height:1.1px;background:#9a9aa2"></div>
<div class="a" style="left:138px;top:367px;width:62px;height:18.30000000000001px;background:#00821a"></div>
<div id="d10_1" class="t n s" style="left:151.05px;top:367.10px;color:#ededed;transform:scaleX(0.9620);">1.3367</div>
<div class="a" style="left:200px;top:367px;width:61px;height:18.30000000000001px;background:#960015"></div>
<div id="d10_2" class="t n s" style="left:211.90px;top:367.10px;color:#ededed;transform:scaleX(0.9620);">.01119</div>
<div class="a" style="left:261px;top:367px;width:63px;height:18.30000000000001px;background:#004200"></div>
<div id="d10_3" class="t n s" style="left:275.07px;top:367.10px;color:#ededed;transform:scaleX(0.9620);">1.6022</div>
<div class="a" style="left:324px;top:367px;width:61px;height:18.30000000000001px;background:#1b1c1f"></div>
<div id="d10_4" class="t n s" style="left:335.85px;top:367.10px;color:#ededed;transform:scaleX(0.9620);">1.0746</div>
<div class="a" style="left:385px;top:367px;width:62px;height:18.30000000000001px;background:#540003"></div>
<div id="d10_5" class="t n s" style="left:398.01px;top:367.10px;color:#ededed;transform:scaleX(0.9620);">1.0121</div>
<div class="a" style="left:447px;top:367px;width:61px;height:18.30000000000001px;background:#960015"></div>
<div id="d10_6" class="t n s" style="left:458.85px;top:367.10px;color:#ededed;transform:scaleX(0.9620);">1.0516</div>
<div class="a" style="left:508px;top:367px;width:61px;height:18.30000000000001px;background:#1b1c1f"></div>
<div id="d10_7" class="t n s" style="left:519.90px;top:367.10px;color:#ededed;transform:scaleX(0.9620);">.16089</div>
<div class="a" style="left:569px;top:367px;width:63px;height:18.30000000000001px;background:#1b1c1f"></div>
<div id="d10_8" class="t n s" style="left:582.90px;top:367.10px;color:#ededed;transform:scaleX(0.9620);">.12899</div>
<div class="a" style="left:632px;top:367px;width:61px;height:18.30000000000001px;background:#1b1c1f"></div>
<div id="d10_9" class="t n s" style="left:643.90px;top:367.10px;color:#ededed;transform:scaleX(0.9620);">31.469</div>
<div class="a" style="left:693px;top:367px;width:61px;height:18.30000000000001px;background:#004200"></div>
<div id="d10_10" class="t n s" style="left:704.90px;top:367.10px;color:#ededed;transform:scaleX(0.9620);">1682.8</div>
<div class="a" style="left:15px;top:406.3px;width:749.7px;height:19.7px;background:linear-gradient(#6a6a6c 0,#5a5a5c 1.5px,#4a4a4c 6px,#3a3a3c 12px,#2c2c2e 19.5px)"></div>
<div id="tchg" class="t s2" style="left:16.52px;top:407.10px;color:#dcdce0;transform:scaleX(0.8624);">% Change on Day Range</div>
<div class="a" style="left:15.2px;top:426.5px;width:103.1px;height:20px;background:#dc2832"></div>
<div id="tl0" class="t n s2" style="left:22.03px;top:427.80px;color:#f2f2f2;transform:scaleX(1.0037);">Below -2.5%</div>
<div class="a" style="left:118.3px;top:426.5px;width:111.7px;height:20px;background:#960015"></div>
<div id="tl1" class="t n s2" style="left:122.81px;top:427.80px;color:#f2f2f2;transform:scaleX(0.9828);">-0.5% to -2.5%</div>
<div class="a" style="left:230px;top:426.5px;width:121.2px;height:20px;background:#540003"></div>
<div id="tl2" class="t n s2" style="left:236.22px;top:427.80px;color:#f2f2f2;transform:scaleX(0.9732);">-0.05% to -0.5%</div>
<div class="a" style="left:351.2px;top:426.5px;width:123.4px;height:20px;background:#1b1c1f"></div>
<div id="tl3" class="t n s2" style="left:357.23px;top:427.80px;color:#f2f2f2;transform:scaleX(0.9541);">-0.05% to 0.05%</div>
<div class="a" style="left:474.6px;top:426.5px;width:106.2px;height:20px;background:#004200"></div>
<div id="tl4" class="t n s2" style="left:478.89px;top:427.80px;color:#f2f2f2;transform:scaleX(0.9404);">0.05% to 0.5%</div>
<div class="a" style="left:580.8px;top:426.5px;width:97.7px;height:20px;background:#00821a"></div>
<div id="tl5" class="t n s2" style="left:585.49px;top:427.80px;color:#f2f2f2;transform:scaleX(0.9415);">0.5% to 2.5%</div>
<div class="a" style="left:678.5px;top:426.5px;width:85.8px;height:20px;background:#2ecb33"></div>
<div id="tl6" class="t n s2" style="left:681.32px;top:427.80px;color:#f2f2f2;transform:scaleX(0.9553);">Above 2.5%</div>
</body></html>
